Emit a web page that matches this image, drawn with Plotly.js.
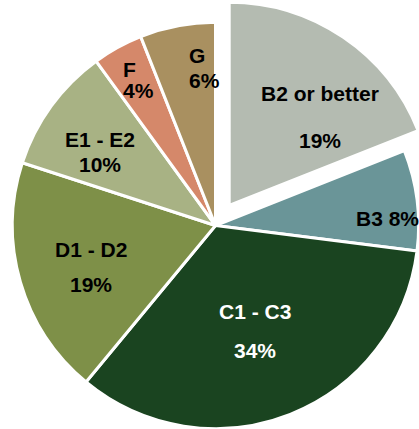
<!DOCTYPE html>
<html><head><meta charset="utf-8">
<script src="https://cdn.plot.ly/plotly-3.0.1.min.js"></script>
<style>
html,body{margin:0;padding:0;overflow:hidden;width:419px;height:429px;background:#fff}
#chart{position:absolute;left:-12px;top:-2px;width:455px;height:455px}
</style>
</head><body><div id="chart"></div>
<script>
const categories = ["B2 or better", "B3", "C1 - C3", "D1 - D2", "E1 - E2", "F", "G"];
const shares = [19, 8, 34, 19, 10, 4, 6];
const pulled = [0.12, 0, 0, 0, 0, 0, 0];

const sliceColors = ["#b4bbb1", "#6a9598", "#1a4420", "#7e9048", "#a8b284", "#d5886a", "#a99060"];
const textColors = ["#000", "#000", "#fff", "#000", "#000", "#000", "#000"];

// label layout (window pixels): x, y of each line, anchor
const labelPos = [
  {x: 320, y: [93, 140], a: "center", oneLine: false},
  {x: 387, y: [218], a: "center", oneLine: true},
  {x: 255, y: [311, 350], a: "center", oneLine: false},
  {x: 91, y: [249, 284], a: "center", oneLine: false},
  {x: 100, y: [139, 164], a: "center", oneLine: false},
  {x: 121, y: [69, 91], a: "left", oneLine: false},
  {x: 187, y: [55, 80], a: "left", oneLine: false}
];

const DIV = {left: -12, top: -2, w: 455, h: 455};
const px = x => (x - DIV.left) / DIV.w;
const py = y => 1 - (y - DIV.top) / DIV.h;

const annotations = [];
categories.forEach((c, i) => {
  const p = labelPos[i];
  const lines = p.oneLine ? [c + " " + shares[i] + "%"] : [c, shares[i] + "%"];
  lines.forEach((t, j) => {
    annotations.push({
      text: "<b>" + t + "</b>", xref: "paper", yref: "paper",
      x: px(p.x), y: py(p.y[j]), xanchor: p.a, yanchor: "middle",
      showarrow: false,
      font: {family: "Liberation Sans, Arial, sans-serif", size: 21, color: textColors[i]}
    });
  });
});

const data = [{
  type: "pie",
  labels: categories,
  values: shares,
  sort: false,
  direction: "clockwise",
  rotation: 0,
  pull: pulled,
  textinfo: "none",
  hoverinfo: "none",
  marker: {colors: sliceColors, line: {color: "#ffffff", width: 3}},
  domain: {x: [0, 1], y: [0, 1]}
}];

const layout = {
  width: DIV.w, height: DIV.h,
  margin: {l: 0, r: 0, t: 0, b: 0},
  showlegend: false,
  paper_bgcolor: "#ffffff",
  annotations: annotations
};

Plotly.newPlot("chart", data, layout, {displayModeBar: false, staticPlot: true});
</script>
</body></html>
